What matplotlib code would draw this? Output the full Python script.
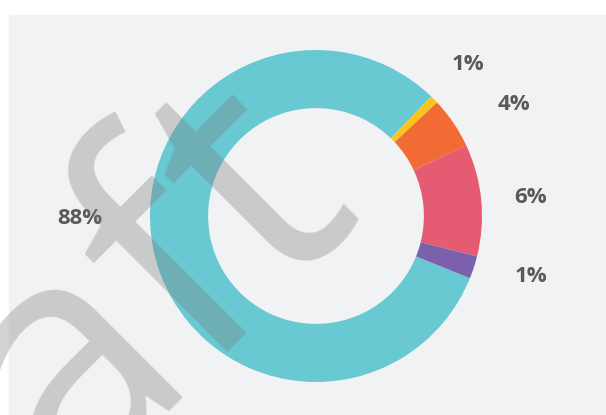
import matplotlib.pyplot as plt
from matplotlib.patches import Rectangle

# slice sizes (percent of the circle)
values = [81.1, 0.8, 5.0, 10.9, 2.2]
colors = ["#68c9d2", "#f8c51c", "#f26b35", "#e45b72", "#7b61ab"]
# labels as printed on the chart
labels = ["88%", "1%", "4%", "6%", "1%"]
label_pos = [(80, 196), (468, 351), (514, 311), (531, 217), (531, 138)]

W, H = 606, 415
fig = plt.figure(figsize=(W / 100, H / 100), dpi=100)
fig.patch.set_facecolor("white")
ax = fig.add_axes([0, 0, 1, 1])
ax.set_xlim(0, W)
ax.set_ylim(0, H)
ax.set_aspect("equal")
ax.axis("off")

ax.add_patch(Rectangle((9, 0), W - 9, H - 15, color="#f1f2f4", zorder=0))

ax.pie(values, colors=colors, radius=166, center=(316, 199),
       startangle=338, counterclock=False,
       wedgeprops=dict(width=166 * 0.35, linewidth=0), frame=True)
ax.set_xlim(0, W)
ax.set_ylim(0, H)
ax.axis("off")

for txt, (x, y) in zip(labels, label_pos):
    ax.text(x, y, txt, ha="center", va="center", fontsize=16,
            fontweight="bold", family="Open Sans", color="#58595b", zorder=3)

# watermark
ax.text(357, 224, "Draft", rotation=45, rotation_mode="anchor",
        ha="right", va="baseline", fontsize=240, family="Open Sans",
        color="#7c7c7c", alpha=0.34, zorder=5)

fig.savefig("out.png", dpi=100)
